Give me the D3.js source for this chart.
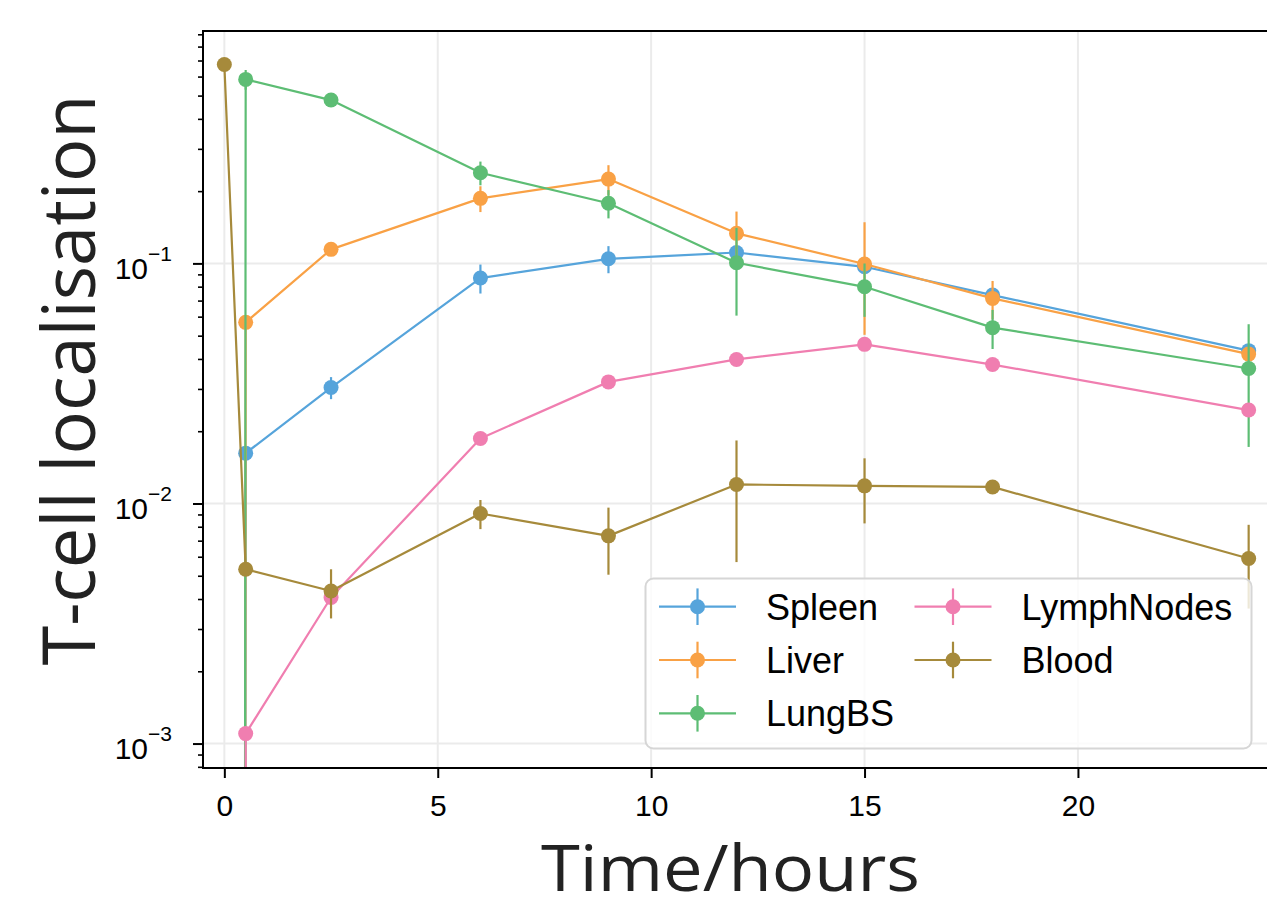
<!DOCTYPE html>
<html>
<head>
<meta charset="utf-8">
<script src="https://cdn.jsdelivr.net/npm/d3@7"></script>
<style>
  body { margin: 0; background: #fff; }
</style>
</head>
<body>
<svg id="chart" width="1267" height="909"></svg>
<script>
// time points (hours) and per-organ fractions
const times = [0, 0.5, 2.5, 6, 9, 12, 15, 18, 24]

const spleen     = [0, 0.0162, 0.0304, 0.0869, 0.1045, 0.111, 0.0968, 0.0738, 0.0433]
const spleenErr  = [0, 0, 0.0032, 0.012, 0.0135, 0.004, 0.004, 0.003, 0.002]
const liver      = [0, 0.0568, 0.1144, 0.1866, 0.2245, 0.1334, 0.0994, 0.0715, 0.0419]
const liverErr   = [0, 0, 0.004, 0.023, 0.032, 0.031, 0.049, 0.013, 0.003]
const lungBS     = [0, 0.584, 0.479, 0.2385, 0.178, 0.1006, 0.0799, 0.054, 0.0365]
const lungBSErr  = [0, 0.055, 0.015, 0.027, 0.024, 0.04, 0.02, 0.01, 0.0193]
const lymph      = [0, 0.0011, 0.00406, 0.01866, 0.0321, 0.0398, 0.046, 0.0379, 0.0245]
const lymphErr   = [0, 0, 0, 0, 0, 0, 0, 0, 0]
const blood      = [0.674, 0.00532, 0.00432, 0.00908, 0.00733, 0.012, 0.01184, 0.01172, 0.0059]
const bloodErr   = [0, 0, 0.001, 0.00126, 0.00228, 0.0063, 0.00358, 0, 0.00225]

const seriesNames = ["Spleen", "Liver", "LungBS", "LymphNodes", "Blood"]
const seriesValues = [spleen, liver, lungBS, lymph, blood]
const seriesErrors = [spleenErr, liverErr, lungBSErr, lymphErr, bloodErr]

const xTicks = [0, 5, 10, 15, 20]
const yMajor = [1e-3, 1e-2, 1e-1]
const yExponents = ["\u22123", "\u22122", "\u22121"]

const colors = ["#56a4db", "#f9a145", "#5dbd74", "#f07eb0", "#a68a3b"]

const width = 1267, height = 909
const plot = {left: 203, right: 1270, top: 31, bottom: 768}
const tiny = 1e-100   // stand-in for zero on the log axis (matplotlib clips the same way)

const x = d3.scaleLinear().domain([-0.5, 24.5]).range([plot.left, plot.right])
const y = d3.scaleLog().domain([7.91e-4, 0.929]).range([plot.bottom, plot.top])
const yc = v => y(Math.max(v, tiny))

const svg = d3.select("#chart")
  .attr("viewBox", [0, 0, width, height])

svg.append("defs").append("clipPath").attr("id", "plotclip")
  .append("rect")
    .attr("x", plot.left).attr("y", plot.top)
    .attr("width", plot.right - plot.left).attr("height", plot.bottom - plot.top)

// grid
const grid = svg.append("g").attr("stroke", "#ebebeb").attr("stroke-width", 2)
grid.selectAll("line.vx").data(xTicks).join("line")
    .attr("x1", d => x(d)).attr("x2", d => x(d))
    .attr("y1", plot.top).attr("y2", plot.bottom)
grid.selectAll("line.hy").data(yMajor).join("line")
    .attr("y1", d => y(d)).attr("y2", d => y(d))
    .attr("x1", plot.left).attr("x2", plot.right)

// data
const line = d3.line()
    .x((d, i) => x(times[i]))
    .y(d => yc(d))

const dataG = svg.append("g").attr("clip-path", "url(#plotclip)")

seriesNames.forEach((name, s) => {
  const vals = seriesValues[s]
  const errs = seriesErrors[s]
  const g = dataG.append("g")
    .attr("stroke", colors[s])
    .attr("fill", colors[s])

  g.selectAll("line.err")
    .data(times.map((t, i) => i).filter(i => errs[i] > 0))
    .join("line")
      .attr("stroke-width", 2.2)
      .attr("x1", i => x(times[i])).attr("x2", i => x(times[i]))
      .attr("y1", i => yc(vals[i] + errs[i]))
      .attr("y2", i => yc(vals[i] - errs[i]))

  g.append("path")
      .attr("fill", "none")
      .attr("stroke-width", 2.2)
      .attr("stroke-linejoin", "round")
      .attr("d", line(vals))

  g.selectAll("circle")
    .data(vals.map((v, i) => i).filter(i => vals[i] > 0))
    .join("circle")
      .attr("stroke", "none")
      .attr("r", 7.5)
      .attr("cx", i => x(times[i]))
      .attr("cy", i => y(vals[i]))
})

// spines
const spines = svg.append("g").attr("stroke", "#000").attr("stroke-width", 2).attr("fill", "none")
spines.append("rect")
    .attr("x", plot.left).attr("y", plot.top)
    .attr("width", plot.right - plot.left).attr("height", plot.bottom - plot.top)

// x axis
svg.append("g")
    .attr("transform", `translate(0,${plot.bottom})`)
    .call(d3.axisBottom(x).tickValues(xTicks).tickSize(10).tickPadding(17).tickSizeOuter(0))
    .call(g => g.select(".domain").remove())
    .call(g => g.selectAll(".tick line").attr("stroke-width", 2))
    .call(g => g.selectAll(".tick text")
        .attr("font-family", "Liberation Sans, Arial, sans-serif")
        .attr("font-size", 30)
        .attr("fill", "#000"))

// y axis minor ticks
const yMinor = []
for (let e = -4; e <= 0; e++) {
  for (let m = 2; m <= 9; m++) {
    const v = m * Math.pow(10, e)
    if (v >= y.domain()[0] && v <= y.domain()[1]) yMinor.push(v)
  }
}
svg.append("g")
    .attr("transform", `translate(${plot.left},0)`)
    .call(d3.axisLeft(y).tickValues(yMinor).tickSize(5).tickFormat(""))
    .call(g => g.select(".domain").remove())
    .call(g => g.selectAll(".tick line").attr("stroke-width", 1.6))

// y axis major ticks with 10^n labels
const yAx = svg.append("g")
    .attr("transform", `translate(${plot.left},0)`)
    .call(d3.axisLeft(y).tickValues(yMajor).tickSize(10).tickFormat(""))
    .call(g => g.select(".domain").remove())
    .call(g => g.selectAll(".tick line").attr("stroke-width", 2))

yAx.selectAll(".tick").each(function(d, i) {
  const t = d3.select(this).append("text")
      .attr("x", -31)
      .attr("y", 15)
      .attr("text-anchor", "end")
      .attr("fill", "#000")
      .attr("font-family", "Liberation Sans, Arial, sans-serif")
      .attr("font-size", 30)
  t.append("tspan").text("10")
  t.append("tspan").attr("dy", -18).attr("font-size", 21).text(yExponents[i])
})

// axis titles
svg.append("text")
    .attr("x", 730.5)
    .attr("y", 891)
    .attr("text-anchor", "middle")
    .attr("font-family", "Open Sans, Noto Sans, sans-serif")
    .attr("font-size", 64)
    .attr("fill", "#222")
    .attr("textLength", 379)
    .attr("lengthAdjust", "spacingAndGlyphs")
    .text("Time/hours")

svg.append("text")
    .attr("transform", "translate(95,380) rotate(-90)")
    .attr("text-anchor", "middle")
    .attr("font-family", "Open Sans, Noto Sans, sans-serif")
    .attr("font-size", 74)
    .attr("fill", "#222")
    .attr("textLength", 571)
    .attr("lengthAdjust", "spacingAndGlyphs")
    .text("T-cell localisation")

// legend
const legend = svg.append("g")
legend.append("rect")
    .attr("x", 645.5).attr("y", 578.5)
    .attr("width", 606).attr("height", 170)
    .attr("rx", 8)
    .attr("fill", "#fff").attr("fill-opacity", 0.8)
    .attr("stroke", "#d6d6d6").attr("stroke-width", 2)

const item = legend.selectAll("g.item")
  .data(seriesNames)
  .join("g")
    .attr("transform", (d, i) => `translate(${Math.floor(i / 3) === 0 ? 659 : 914.5},${606.7 + (i % 3) * 53.3})`)

item.append("line")
    .attr("x1", 0).attr("x2", 77)
    .attr("stroke", (d, i) => colors[i]).attr("stroke-width", 2.2)
item.append("line")
    .attr("x1", 38.5).attr("x2", 38.5).attr("y1", -18.3).attr("y2", 18.3)
    .attr("stroke", (d, i) => colors[i]).attr("stroke-width", 2.2)
item.append("circle")
    .attr("cx", 38.5).attr("r", 7.5)
    .attr("fill", (d, i) => colors[i])
item.append("text")
    .attr("x", 107)
    .attr("y", 13)
    .attr("font-family", "Liberation Sans, Arial, sans-serif")
    .attr("font-size", 36)
    .attr("fill", "#000")
    .text(d => d)
</script>
</body>
</html>
